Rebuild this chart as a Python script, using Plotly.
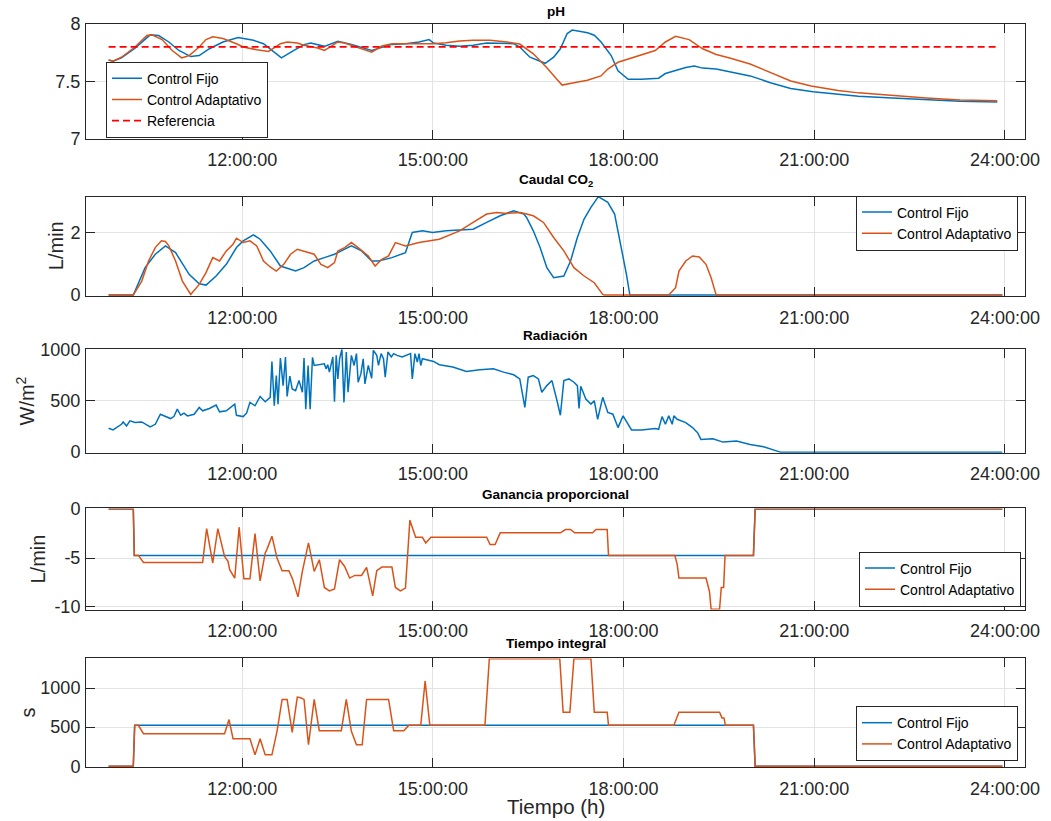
import plotly.graph_objects as go

# ---------------- data (time in hours of the day) ----------------
tick_hours = [12, 15, 18, 21, 24]
tick_labels = ["12:00:00", "15:00:00", "18:00:00", "21:00:00", "24:00:00"]

# pH
ph_fijo_t = [9.899, 9.968, 10.101, 10.314, 10.553, 10.686, 10.846, 11.005, 11.191, 11.324,
             11.484, 11.697, 11.936, 12.176, 12.335, 12.441, 12.617, 12.814, 12.973, 13.080,
             13.293, 13.505, 13.718, 14.037, 14.197, 14.356, 14.569, 14.782, 14.941, 15.011,
             15.207, 15.420, 15.633, 15.846, 16.271, 16.367, 16.527, 16.767, 16.900, 17.006,
             17.113, 17.193, 17.433, 17.539, 17.646, 17.805, 17.912, 18.072, 18.285, 18.551,
             18.658, 18.818, 18.978, 19.111, 19.244, 19.457, 19.670, 19.990, 20.309, 20.629,
             20.981, 21.375, 21.695, 22.228, 22.760, 23.293, 23.879]
ph_fijo_v = [7.686, 7.675, 7.704, 7.790, 7.905, 7.899, 7.843, 7.769, 7.716, 7.725,
             7.784, 7.843, 7.882, 7.858, 7.828, 7.784, 7.704, 7.769, 7.820, 7.834,
             7.805, 7.849, 7.822, 7.769, 7.799, 7.822, 7.828, 7.843, 7.864, 7.834,
             7.814, 7.805, 7.814, 7.834, 7.828, 7.799, 7.710, 7.657, 7.710, 7.784,
             7.917, 7.947, 7.923, 7.902, 7.843, 7.725, 7.592, 7.518, 7.518, 7.527,
             7.568, 7.592, 7.621, 7.633, 7.615, 7.607, 7.583, 7.547, 7.488, 7.438,
             7.408, 7.385, 7.370, 7.355, 7.340, 7.325, 7.320]

ph_adapt_t = [9.899, 9.968, 10.101, 10.314, 10.500, 10.580, 10.739, 10.899, 11.048, 11.165,
              11.324, 11.431, 11.537, 11.697, 11.910, 12.016, 12.229, 12.415, 12.601, 12.707,
              12.867, 12.973, 13.186, 13.293, 13.399, 13.505, 13.612, 13.824, 14.037, 14.197,
              14.356, 14.782, 15.011, 15.207, 15.420, 15.633, 15.899, 16.165, 16.367, 16.580,
              16.790, 16.950, 17.033, 17.220, 17.430, 17.645, 17.752, 17.912, 18.072, 18.285,
              18.498, 18.658, 18.818, 19.031, 19.244, 19.457, 19.670, 19.990, 20.310, 20.630,
              20.949, 21.375, 21.695, 22.228, 22.760, 23.293, 23.879]
ph_adapt_v = [7.686, 7.675, 7.710, 7.799, 7.899, 7.905, 7.864, 7.769, 7.704, 7.725,
              7.799, 7.864, 7.888, 7.873, 7.828, 7.799, 7.775, 7.760, 7.828, 7.843,
              7.834, 7.814, 7.790, 7.769, 7.805, 7.843, 7.834, 7.793, 7.754, 7.808,
              7.828, 7.828, 7.828, 7.837, 7.852, 7.858, 7.858, 7.843, 7.825, 7.740,
              7.621, 7.518, 7.467, 7.488, 7.509, 7.547, 7.607, 7.666, 7.695, 7.734,
              7.769, 7.843, 7.893, 7.864, 7.784, 7.734, 7.704, 7.651, 7.577, 7.503,
              7.459, 7.420, 7.399, 7.376, 7.355, 7.337, 7.331]

ph_ref_t = [9.899, 23.879]
ph_ref_v = [7.8, 7.8]

# Caudal CO2 (L/min)
caudal_fijo_t = [9.899, 10.287, 10.473, 10.633, 10.793, 10.952, 11.165, 11.324, 11.431, 11.590,
                 11.750, 11.910, 12.016, 12.176, 12.282, 12.441, 12.601, 12.707, 12.840, 12.973,
                 13.133, 13.293, 13.452, 13.559, 13.718, 13.878, 14.037, 14.144, 14.356, 14.569,
                 14.676, 14.835, 14.995, 15.207, 15.420, 15.633, 15.846, 16.059, 16.271, 16.431,
                 16.474, 16.580, 16.687, 16.793, 16.900, 17.060, 17.166, 17.273, 17.379, 17.486,
                 17.603, 17.752, 17.859, 17.965, 18.045, 18.099, 23.959]
caudal_fijo_v = [0, 0, 0.877, 1.305, 1.572, 1.358, 0.663, 0.364, 0.321, 0.610,
                 0.984, 1.519, 1.733, 1.925, 1.786, 1.412, 0.930, 0.856, 0.770, 0.877,
                 1.091, 1.198, 1.305, 1.412, 1.572, 1.412, 1.091, 1.091, 1.198, 1.358,
                 2.0, 2.053, 2.0, 2.053, 2.075, 2.107, 2.321, 2.535, 2.695, 2.588,
                 2.481, 2.053, 1.519, 0.877, 0.556, 0.610, 1.091, 1.840, 2.428, 2.802,
                 3.144, 2.963, 2.588, 1.519, 0.663, 0, 0]

caudal_adapt_t = [9.899, 10.287, 10.420, 10.527, 10.633, 10.729, 10.793, 10.846, 10.952, 11.059,
                  11.191, 11.324, 11.431, 11.537, 11.644, 11.750, 11.856, 11.910, 12.016, 12.122,
                  12.229, 12.335, 12.441, 12.537, 12.654, 12.761, 12.867, 13.027, 13.133, 13.239,
                  13.346, 13.452, 13.505, 13.612, 13.718, 13.824, 13.984, 14.090, 14.197, 14.303,
                  14.410, 14.569, 14.782, 15.101, 15.420, 15.633, 15.846, 16.005, 16.165, 16.378,
                  16.580, 16.740, 16.900, 17.060, 17.219, 17.379, 17.539, 17.672, 17.699, 18.711,
                  18.818, 18.871, 18.978, 19.084, 19.191, 19.297, 19.377, 19.457, 23.959]
caudal_adapt_v = [0, 0, 0.449, 1.091, 1.519, 1.733, 1.711, 1.572, 1.091, 0.449,
                  0.021, 0.342, 0.717, 1.198, 1.091, 1.412, 1.626, 1.818, 1.679, 1.733,
                  1.572, 1.091, 0.898, 0.770, 0.984, 1.305, 1.465, 1.358, 1.305, 0.984,
                  0.877, 1.037, 1.412, 1.519, 1.679, 1.519, 1.251, 0.930, 1.144, 1.251,
                  1.679, 1.572, 1.679, 1.786, 2.053, 2.321, 2.588, 2.642, 2.610, 2.642,
                  2.535, 2.321, 1.840, 1.412, 0.877, 0.610, 0.396, 0.021, 0, 0,
                  0.235, 0.770, 1.091, 1.251, 1.219, 0.984, 0.556, 0, 0]

# Radiacion (W/m2)
rad_t = [9.899, 9.968, 10.101, 10.128, 10.181, 10.234, 10.314, 10.420, 10.553, 10.633,
         10.713, 10.793, 10.872, 10.926, 10.979, 11.032, 11.085, 11.138, 11.245, 11.324,
         11.378, 11.484, 11.590, 11.644, 11.750, 11.883, 11.910, 12.016, 12.069, 12.122,
         12.202, 12.282, 12.362, 12.441, 12.468, 12.505, 12.537, 12.564, 12.601, 12.644,
         12.681, 12.707, 12.750, 12.787, 12.840, 12.894, 12.947, 12.973, 13.000, 13.037,
         13.069, 13.106, 13.133, 13.293, 13.319, 13.346, 13.372, 13.426, 13.452, 13.479,
         13.505, 13.532, 13.569, 13.601, 13.638, 13.665, 13.718, 13.761, 13.798, 13.824,
         13.867, 13.904, 13.931, 13.984, 14.037, 14.064, 14.117, 14.144, 14.186, 14.223,
         14.250, 14.293, 14.346, 14.383, 14.436, 14.516, 14.596, 14.649, 14.676, 14.718,
         14.755, 14.782, 14.809, 14.835, 15.011, 15.101, 15.314, 15.527, 15.739, 15.952,
         16.112, 16.271, 16.367, 16.447, 16.500, 16.580, 16.660, 16.713, 16.793, 16.873,
         16.953, 17.006, 17.060, 17.140, 17.219, 17.273, 17.299, 17.326, 17.406, 17.486,
         17.539, 17.592, 17.672, 17.752, 17.832, 17.912, 17.992, 18.072, 18.125, 18.285,
         18.498, 18.551, 18.605, 18.658, 18.711, 18.765, 18.791, 18.844, 18.898, 18.978,
         19.084, 19.164, 19.217, 19.404, 19.564, 19.777, 19.990, 20.203, 20.416, 20.469,
         23.959]
rad_v = [232, 216, 271, 294, 255, 304, 288, 294, 245, 271,
         369, 346, 327, 346, 418, 359, 379, 353, 369, 435,
         402, 425, 458, 392, 402, 467, 359, 346, 379, 484,
         451, 542, 490, 533, 882, 451, 745, 467, 915, 647,
         925, 542, 739, 614, 598, 696, 582, 915, 418, 843,
         418, 922, 843, 859, 810, 850, 778, 925, 490, 941,
         712, 908, 1000, 484, 974, 582, 941, 843, 958, 680,
         761, 908, 663, 843, 719, 990, 941, 843, 958, 908,
         729, 974, 925, 958, 941, 925, 948, 958, 712, 958,
         876, 958, 843, 908, 882, 850, 827, 784, 801, 810,
         778, 752, 712, 435, 729, 745, 712, 582, 647, 696,
         500, 359, 696, 712, 680, 647, 425, 641, 516, 467,
         500, 320, 533, 386, 369, 239, 353, 271, 216, 216,
         229, 222, 346, 271, 353, 271, 353, 320, 304, 288,
         239, 190, 124, 131, 98, 108, 75, 52, 10, 0,
         0]

# Ganancia proporcional (L/min)
kp_fijo_t = [9.899, 10.287, 10.303, 20.043, 20.070, 23.959]
kp_fijo_v = [0, 0, -4.73, -4.73, 0, 0]

kp_adapt_t = [9.899, 10.287, 10.303, 10.367, 10.447, 11.378, 11.441, 11.537, 11.617, 11.670,
              11.723, 11.777, 11.803, 11.883, 11.952, 12.027, 12.122, 12.202, 12.282, 12.362,
              12.388, 12.468, 12.548, 12.628, 12.734, 12.787, 12.878, 12.947, 13.043, 13.133,
              13.213, 13.293, 13.372, 13.452, 13.532, 13.612, 13.691, 13.771, 13.878, 13.957,
              14.053, 14.117, 14.197, 14.356, 14.410, 14.489, 14.569, 14.638, 14.729, 14.835,
              14.888, 14.968, 15.846, 15.899, 15.979, 16.059, 17.006, 17.086, 17.166, 17.230,
              17.512, 17.566, 17.742, 17.763, 18.807, 18.844, 18.871, 19.297, 19.351, 19.377,
              19.510, 19.537, 19.574, 19.596, 20.043, 20.070, 23.959]
kp_adapt_v = [0, 0, -4.73, -4.73, -5.45, -5.45, -1.99, -5.51, -1.99, -3.29,
              -4.83, -5.34, -6.20, -7.05, -1.85, -7.12, -7.12, -2.50, -7.33, -4.49,
              -4.14, -2.77, -5.0, -6.30, -6.30, -7.05, -8.97, -6.37, -3.46, -6.37,
              -5.17, -8.01, -8.36, -8.15, -5.17, -5.86, -7.05, -6.78, -6.78, -5.96,
              -8.87, -6.30, -5.92, -5.92, -8.01, -8.36, -8.08, -1.13, -2.88, -2.88,
              -3.46, -2.88, -2.88, -3.63, -3.63, -2.43, -2.43, -2.09, -2.09, -2.43,
              -2.43, -2.09, -2.09, -4.73, -4.73, -5.68, -7.05, -7.05, -8.42, -10.24,
              -10.24, -8.01, -8.01, -4.73, -4.73, 0, 0]

# Tiempo integral (s)
ti_fijo_t = [9.899, 10.287, 10.309, 20.043, 20.070, 23.959]
ti_fijo_v = [0, 0, 524, 524, 0, 0]

ti_adapt_t = [9.899, 10.287, 10.309, 10.367, 10.447, 11.723, 11.793, 11.856, 12.122, 12.202,
              12.282, 12.362, 12.468, 12.548, 12.628, 12.707, 12.787, 12.867, 12.920, 12.973,
              13.043, 13.133, 13.213, 13.559, 13.638, 13.718, 13.798, 13.888, 13.957, 14.303,
              14.383, 14.543, 14.622, 14.809, 14.878, 14.952, 15.819, 15.888, 16.996, 17.049,
              17.155, 17.219, 17.486, 17.539, 17.742, 17.763, 18.791, 18.871, 19.510, 19.548,
              19.580, 19.601, 20.043, 20.070, 23.959]
ti_adapt_v = [0, 0, 524, 524, 416, 416, 597, 352, 352, 146,
              352, 146, 146, 446, 854, 854, 433, 884, 876, 854,
              275, 854, 455, 455, 854, 446, 275, 275, 854, 854,
              455, 455, 524, 524, 1090, 524, 524, 1375, 1375, 691,
              691, 1375, 1375, 691, 691, 524, 524, 691, 691, 618,
              618, 524, 524, 0, 0]

# ---------------- styling / layout helpers ----------------
W, H = 1051, 821
L, R, T, B = 86, 1025, 24, 767


def fx(px):
    return (px - L) / (R - L)


def fy(py):
    return (B - py) / (B - T)


BLUE = "#0072BD"
ORANGE = "#D95319"
RED = "#FF0000"
AX = "#262626"
GRID = "#E3E3E3"
FONT = "Liberation Sans, Arial, Helvetica, sans-serif"
LW = 1.5
X_RANGE = [9.543, 24.315]

panels = [(24.0, 138.6), (196.5, 295.9), (349.3, 452.8), (508.4, 609.5), (658.4, 767.0)]

fig = go.Figure()


def line(x, y, color, name, ax, legend, show=True, dash=None, width=LW):
    fig.add_trace(go.Scatter(
        x=x, y=y, mode="lines", name=name,
        line=dict(color=color, width=width, dash=dash),
        xaxis="x" + ("" if ax == 1 else str(ax)),
        yaxis="y" + ("" if ax == 1 else str(ax)),
        legend=legend, showlegend=show, hoverinfo="skip"))


line(ph_fijo_t, ph_fijo_v, BLUE, "Control Fijo", 1, "legend")
line(ph_adapt_t, ph_adapt_v, ORANGE, "Control Adaptativo", 1, "legend")
line(ph_ref_t, ph_ref_v, RED, "Referencia", 1, "legend", dash="7px,4px", width=1.8)

line(caudal_fijo_t, caudal_fijo_v, BLUE, "Control Fijo", 2, "legend2")
line(caudal_adapt_t, caudal_adapt_v, ORANGE, "Control Adaptativo", 2, "legend2")

line(rad_t, rad_v, BLUE, "Radiación", 3, "legend", show=False)

line(kp_fijo_t, kp_fijo_v, BLUE, "Control Fijo", 4, "legend3")
line(kp_adapt_t, kp_adapt_v, ORANGE, "Control Adaptativo", 4, "legend3")

line(ti_fijo_t, ti_fijo_v, BLUE, "Control Fijo", 5, "legend4")
line(ti_adapt_t, ti_adapt_v, ORANGE, "Control Adaptativo", 5, "legend4")

tickfont = dict(family=FONT, size=18, color=AX)
common = dict(showgrid=True, gridcolor=GRID, gridwidth=1, showline=True, linecolor=AX,
              linewidth=1, mirror="allticks", ticks="inside", ticklen=9, tickcolor=AX,
              tickwidth=1, tickfont=tickfont, zeroline=False)

y_specs = [
    dict(range=[7, 8], tickvals=[7, 7.5, 8], ticktext=["7", "7.5", "8"]),
    dict(range=[-0.025, 3.15], tickvals=[0, 2], ticktext=["0", "2"]),
    dict(range=[-6, 1000], tickvals=[0, 500, 1000], ticktext=["0", "500", "1000"]),
    dict(range=[-10.26, 0.07], tickvals=[-10, -5, 0], ticktext=["-10", "-5", "0"]),
    dict(range=[-9, 1378], tickvals=[0, 500, 1000], ticktext=["0", "500", "1000"]),
]

layout = dict(
    width=W, height=H,
    margin=dict(l=L, r=W - R, t=T, b=H - B, pad=0),
    paper_bgcolor="white", plot_bgcolor="white",
    font=dict(family=FONT, color=AX),
    hovermode=False,
)

for i, ((top, bot), ys) in enumerate(zip(panels, y_specs), start=1):
    sfx = "" if i == 1 else str(i)
    layout["xaxis" + sfx] = dict(
        domain=[0, 1], anchor="y" + sfx, range=X_RANGE, tickmode="array",
        tickvals=tick_hours, ticktext=tick_labels, ticklabelstandoff=5, **common)
    layout["yaxis" + sfx] = dict(
        domain=[fy(bot), min(1.0, fy(top))], anchor="x" + sfx, tickmode="array",
        ticklabelstandoff=1, **ys, **common)


def legend_box(xpx, ypx):
    # legend box centred on the reference legend box centre
    return dict(x=fx(xpx), y=fy(ypx), xanchor="center", yanchor="middle",
                font=dict(family=FONT, size=14, color="black"),
                bgcolor="white", bordercolor=AX, borderwidth=1,
                itemwidth=30, tracegroupgap=0)


layout["legend"] = legend_box(187.0, 99.7)
layout["legend2"] = legend_box(937.0, 223.0)
layout["legend3"] = legend_box(940.0, 579.0)
layout["legend4"] = legend_box(937.0, 733.6)

titles = [("<b>pH</b>", 24.3, 3.5), ("<b>Caudal CO<sub>2</sub></b>", 196.5, 5.0),
          ("<b>Radiación</b>", 349.3, 4.0), ("<b>Ganancia proporcional</b>", 508.4, 4.0),
          ("<b>Tiempo integral</b>", 658.4, 5.0)]
annotations = []
for text, top, gap in titles:
    annotations.append(dict(text=text, x=0.5, y=fy(top - gap), xref="paper", yref="paper",
                            xanchor="center", yanchor="bottom", showarrow=False,
                            font=dict(family=FONT, size=13.5, color="black")))

ylabels = [("L/min", 56, 246.2), ("W/m<sup>2</sup>", 25.5, 401.0),
           ("L/min", 37.5, 559.0), ("s", 27, 712.5)]
for text, xp, yp in ylabels:
    annotations.append(dict(text=text, x=fx(xp), y=fy(yp), xref="paper", yref="paper",
                            xanchor="center", yanchor="middle", textangle=-90,
                            showarrow=False, font=dict(family=FONT, size=20, color=AX)))

annotations.append(dict(text="Tiempo (h)", x=fx(555.5), y=fy(806), xref="paper", yref="paper",
                        xanchor="center", yanchor="middle", showarrow=False,
                        font=dict(family=FONT, size=20.5, color=AX)))
layout["annotations"] = annotations

fig.update_layout(**layout)
fig.write_html("out.html",
               config={"displayModeBar": False},
               post_script="document.body.style.margin='0px';"
                           "document.body.style.padding='0px';")
